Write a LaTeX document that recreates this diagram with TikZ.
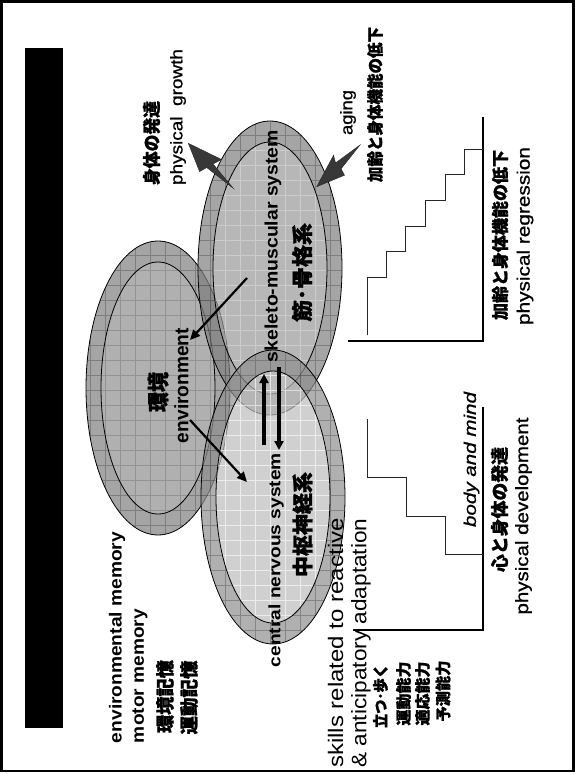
\documentclass[tikz,border=0pt]{standalone}
\usepackage{fontspec}
\usepackage{graphicx}
\setmainfont{Liberation Sans}
\newfontfamily\med{Liberation Sans}[FakeBold=0.8]
\newfontfamily\jp{Noto Sans CJK JP}[BoldFeatures={FakeBold=1.2}]
\usetikzlibrary{arrows.meta}

% text stretched to a given length (pt) at a given size (pt)
\newcommand\fitt[3]{\resizebox{#1pt}{\height}{\fontsize{#2pt}{#2pt}\selectfont #3}}

% a two-ring ellipse with a grid texture:
% #1,#2 centre, #3 ring fill, #4 core fill, #5 ring grid, #6 core grid
\newcommand\blob[6]{%
  \fill[#3, fill opacity=0.7, even odd rule]
    (#1,#2) ellipse [x radius=72pt, y radius=147pt]
    (#1,#2) ellipse [x radius=57pt, y radius=126pt];
  \begin{scope}[even odd rule]
    \clip (#1,#2) ellipse [x radius=72pt, y radius=147pt]
      (#1,#2) ellipse [x radius=57pt, y radius=126pt];
    \draw[#5, line width=0.6pt, step=15pt] (#1-80,#2-160) grid (#1+80,#2+160);
  \end{scope}
  \fill[#4, fill opacity=0.7] (#1,#2) ellipse [x radius=57pt, y radius=126pt];
  \begin{scope}
    \clip (#1,#2) ellipse [x radius=57pt, y radius=126pt];
    \draw[#6, line width=0.6pt, step=15pt] (#1-80,#2-160) grid (#1+80,#2+160);
  \end{scope}
  \draw[line width=0.8pt] (#1,#2) ellipse [x radius=72pt, y radius=147pt]
    (#1,#2) ellipse [x radius=57pt, y radius=126pt];
}

\tikzset{
  vlabel/.style={rotate=90, inner sep=0pt, outer sep=0pt, anchor=center},
  axisline/.style={line width=2pt, black},
  stairline/.style={line width=0.9pt, black!85},
  flowarrow/.style={line width=2.2pt, -{Triangle[length=10pt,width=9pt]}},
  linkarrow/.style={line width=3.2pt, -{Triangle[length=9pt,width=9pt]}},
  blockarrow/.style={fill=black!78, draw=black!85, line width=0.4pt},
}

\begin{document}
\begin{tikzpicture}[x=1pt,y=-1pt]
\useasboundingbox (0,0) rectangle (575,774);
\fill[white] (0,0) rectangle (575,774);

% page frame and title bar
\draw[line width=2.2pt] (1.5,1.5) rectangle (573.5,771);
\fill[black] (25,48.3) rectangle (62.7,728);

% the three overlapping systems
\blob{158}{388}{black!50}{black!44}{black!90,opacity=0.28}{black!75,opacity=0.25}
\blob{270}{268}{black!50}{black!40}{black!90,opacity=0.28}{white,opacity=0.3}
\blob{273}{497}{black!44}{black!26}{black!90,opacity=0.28}{white,opacity=0.6}

% growth and aging block arrows
\fill[blockarrow] (188.3,143.3) -- (221.5,159.5) -- (213,164) -- (233.3,188.3)
  -- (206.7,167.5) -- (199.6,171.6) -- cycle;
\fill[blockarrow] (316.7,186.7) -- (333.6,155.2) -- (335.5,163) -- (360,145)
  -- (341.1,168.8) -- (344.5,175.2) -- cycle;

% interaction arrows
\coordinate (smsOut) at (247,278);
\coordinate (envIn) at (190,340);
\coordinate (envOut) at (190,420);
\coordinate (cnsIn) at (247,482);
\coordinate (cnsUp) at (264,445);
\coordinate (smsIn) at (264,374);
\coordinate (smsDown) at (279,367);
\coordinate (cnsDown) at (279,450);
\draw[flowarrow] (smsOut) -- (envIn);
\draw[flowarrow] (envOut) -- (cnsIn);
\draw[linkarrow] (cnsUp) -- (smsIn);
\draw[linkarrow] (smsDown) -- (cnsDown);

% regression chart
\draw[axisline] (483.3,117) -- (483.3,341) -- (348,341);
\draw[stairline] (367.3,335) -- (367.3,277.3) -- (386.7,277.3) -- (386.7,251.7)
  -- (405.7,251.7) -- (405.7,226) -- (425.7,226) -- (425.7,200) -- (445,200)
  -- (445,174) -- (464,174) -- (464,149) -- (483.3,149);

% development chart
\draw[axisline] (483.3,407) -- (483.3,630) -- (353,630);
\draw[stairline] (367.3,419) -- (367.3,477) -- (406,477) -- (406,516)
  -- (445,516) -- (445,554) -- (483.3,554);

% memory labels
\node[vlabel] (envmem) at (117,637.5) {\fitt{211}{17.5}{\bfseries environmental memory}};
\node[vlabel] (motmem) at (140,676) {\fitt{134}{17.5}{\bfseries motor memory}};
\node[vlabel] (envmemjp) at (165,696.5) {\fitt{73}{18.5}{\jp\bfseries 環境記憶}};
\node[vlabel] (motmemjp) at (189,697.5) {\fitt{74}{18.5}{\jp\bfseries 運動記憶}};

% system labels
\node[vlabel] (envjp) at (158,392) {\fitt{40}{22}{\jp\bfseries 環境}};
\node[vlabel] (env) at (181.5,385.5) {\fitt{115}{19.5}{\bfseries environment}};
\node[vlabel] (sms) at (273,246) {\fitt{232}{18}{\bfseries skeleto-muscular system}};
\node[vlabel] (smsjp) at (302,272.5) {\fitt{99}{21}{\jp\bfseries 筋･骨格系}};
\node[vlabel] (cns) at (276,560) {\fitt{214}{16.5}{\bfseries central nervous system}};
\node[vlabel] (cnsjp) at (302.5,524.5) {\fitt{105}{21}{\jp\bfseries 中枢神経系}};

% growth and aging labels
\node[vlabel] (growthjp) at (151.5,143) {\fitt{84}{18}{\jp\bfseries 身体の発達}};
\node[vlabel] (growth) at (178,117) {\fitt{136}{17}{\med physical~~growth}};
\node[vlabel] (aging) at (348,112.5) {\fitt{45}{17}{\med aging}};
\node[vlabel] (agingjp) at (375,104.5) {\fitt{155}{16.5}{\jp\bfseries 加齢と身体機能の低下}};

% chart captions
\node[vlabel] (regjp) at (500,235) {\fitt{170}{17}{\jp\bfseries 加齢と身体機能の低下}};
\node[vlabel] (reg) at (525,236) {\fitt{178}{18}{\med physical regression}};
\node[vlabel] (bm) at (471.5,459.5) {\fitt{135}{17}{\med\itshape body and mind}};
\node[vlabel] (devjp) at (499.5,509.5) {\fitt{125}{18}{\jp\bfseries 心と身体の発達}};
\node[vlabel] (dev) at (523.5,516) {\fitt{197}{18}{\med physical development}};

% skills
\node[vlabel] (skills1) at (335.5,643) {\fitt{249.5}{21}{skills related to reactive}};
\node[vlabel] (skills2) at (361,643) {\fitt{249}{21}{\& anticipatory adaptation}};
\node[vlabel] (sk1) at (380.5,696) {\fitt{64}{15.5}{\jp\bfseries 立つ･歩く}};
\node[vlabel] (sk2) at (403.5,693.5) {\fitt{64}{15.5}{\jp\bfseries 運動能力}};
\node[vlabel] (sk3) at (422.5,693.5) {\fitt{64}{15.5}{\jp\bfseries 適応能力}};
\node[vlabel] (sk4) at (443,691) {\fitt{61}{15.5}{\jp\bfseries 予測能力}};
\end{tikzpicture}
\end{document}
